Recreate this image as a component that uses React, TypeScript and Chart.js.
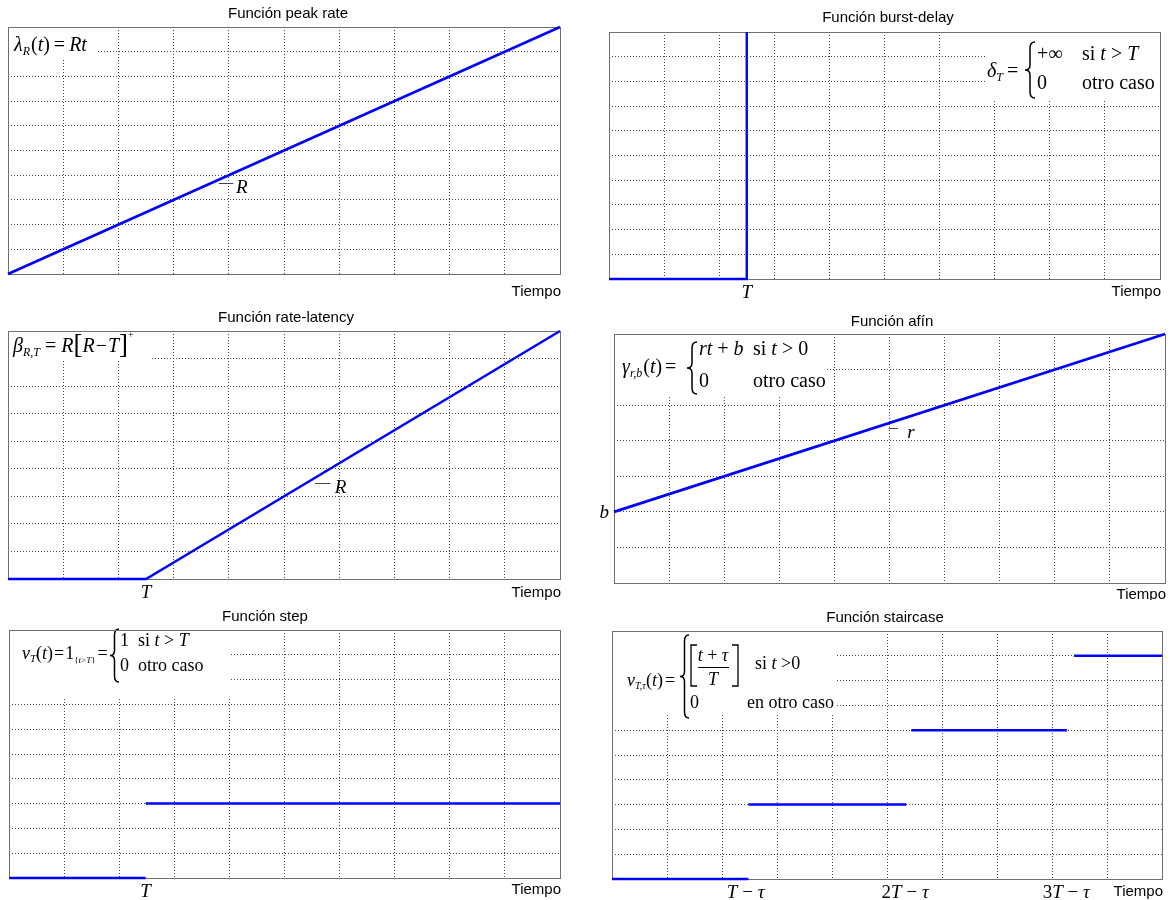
import React, { useEffect, useRef } from 'react';
import { Chart, registerables } from 'chart.js';
Chart.register(...registerables);

// ---------------- data ----------------
const titles = ['Función peak rate', 'Función burst-delay', 'Función rate-latency', 'Función afín', 'Función step', 'Función staircase'];
const xMax = 10;
const yMaxes = [10, 10, 9, 7, 10, 10];

const peakT = [0, 10];
const peakV = [0, 10];
const burstT = [0, 2.5, 2.5];
const burstV = [0, 0, 10];
const latencyT = [0, 2.5, 10];
const latencyV = [0, 0, 9];
const affineT = [0, 10];
const affineV = [2, 7];
const stepStart = [0, 2.48];
const stepEnd = [2.48, 10];
const stepLevel = [0, 3];
const stairStart = [0, 2.48, 5.44, 8.4];
const stairEnd = [2.48, 5.35, 8.27, 10];
const stairLevel = [0, 3, 6, 9];

const burstTickPos = [2.5];
const latencyTickPos = [2.5];
const stepTickPos = [2.48];
const stairTickPos = [2.43, 5.33, 8.26];
const affineYTickPos = [2];

// ---------------- styles ----------------
const BLUE = '#0000ff';
const GRID = '#454545';
const FRAME = '#707070';
const SERIF = '"Liberation Serif", "Times New Roman", serif';
const SANS = '"Liberation Sans", Arial, sans-serif';

type Part = { t: string; i?: boolean; s?: number; dy?: number; dx?: number };

function fnt(p: Part, def: number) {
  return `${p.i ? 'italic ' : ''}${p.s ?? def}px ${SERIF}`;
}
function seqWidth(ctx: CanvasRenderingContext2D, parts: Part[], def: number) {
  let w = 0;
  for (const p of parts) {
    ctx.font = fnt(p, def);
    w += (p.dx ?? 0) + ctx.measureText(p.t).width;
  }
  return w;
}
function drawSeq(ctx: CanvasRenderingContext2D, x: number, y: number, parts: Part[], def = 20, align: 'left' | 'center' | 'right' = 'left') {
  const w = seqWidth(ctx, parts, def);
  let cx = align === 'center' ? x - w / 2 : align === 'right' ? x - w : x;
  ctx.save();
  ctx.textAlign = 'left';
  ctx.textBaseline = 'alphabetic';
  ctx.fillStyle = '#000';
  for (const p of parts) {
    ctx.font = fnt(p, def);
    cx += p.dx ?? 0;
    ctx.fillText(p.t, cx, y + (p.dy ?? 0));
    cx += ctx.measureText(p.t).width;
  }
  ctx.restore();
  return cx;
}
function brace(ctx: CanvasRenderingContext2D, x: number, y0: number, y1: number, w: number) {
  const ym = (y0 + y1) / 2;
  const xm = x + w / 2;
  ctx.save();
  ctx.strokeStyle = '#000';
  ctx.lineWidth = 1.5;
  ctx.beginPath();
  ctx.moveTo(x + w, y0);
  ctx.quadraticCurveTo(xm, y0, xm, y0 + 6);
  ctx.lineTo(xm, ym - 5);
  ctx.quadraticCurveTo(xm, ym, x, ym);
  ctx.quadraticCurveTo(xm, ym, xm, ym + 5);
  ctx.lineTo(xm, y1 - 6);
  ctx.quadraticCurveTo(xm, y1, x + w, y1);
  ctx.stroke();
  ctx.restore();
}
function sqBracket(ctx: CanvasRenderingContext2D, x: number, y0: number, y1: number, w: number, left: boolean) {
  ctx.save();
  ctx.strokeStyle = '#000';
  ctx.lineWidth = 1.3;
  ctx.beginPath();
  const xv = left ? x : x + w;
  const xe = left ? x + w : x;
  ctx.moveTo(xe, y0);
  ctx.lineTo(xv, y0);
  ctx.lineTo(xv, y1);
  ctx.lineTo(xe, y1);
  ctx.stroke();
  ctx.restore();
}
function whiteBox(ctx: CanvasRenderingContext2D, b: number[]) {
  ctx.save();
  ctx.fillStyle = '#fff';
  ctx.fillRect(b[0], b[1], b[2] - b[0], b[3] - b[1]);
  ctx.restore();
}

// ---------------- formulas (page coordinates) ----------------
function f1(ctx: CanvasRenderingContext2D) {
  whiteBox(ctx, [8, 27, 98, 58]);
  drawSeq(ctx, 14, 51, [
    { t: 'λ', i: true }, { t: 'R', i: true, s: 12, dy: 4 }, { t: '(', dx: 1 }, { t: 't', i: true }, { t: ')' },
    { t: '=', dx: 4 }, { t: 'Rt', i: true, dx: 4 },
  ], 20);
}
function f2(ctx: CanvasRenderingContext2D) {
  whiteBox(ctx, [985, 32, 1160, 100]);
  drawSeq(ctx, 987, 77, [{ t: 'δ', i: true }, { t: 'T', i: true, s: 12, dy: 4 }, { t: '=', dx: 4 }], 20);
  brace(ctx, 1025, 42, 98, 10);
  drawSeq(ctx, 1037, 60, [{ t: '+∞' }], 20);
  drawSeq(ctx, 1082, 60, [{ t: 'si ' }, { t: 't', i: true }, { t: ' > ' }, { t: 'T', i: true }], 20);
  drawSeq(ctx, 1037, 89, [{ t: '0' }], 20);
  drawSeq(ctx, 1082, 89, [{ t: 'otro caso' }], 20);
}
function f3(ctx: CanvasRenderingContext2D) {
  whiteBox(ctx, [8, 331, 150, 360]);
  drawSeq(ctx, 13, 352, [
    { t: 'β', i: true }, { t: 'R,T', i: true, s: 12, dy: 4 }, { t: '=', dx: 5 }, { t: 'R', i: true, dx: 5 },
    { t: '[', s: 27, dy: 1 }, { t: 'R', i: true }, { t: '−', dx: 1 }, { t: 'T', i: true, dx: 1 }, { t: ']', s: 27, dy: 1 },
    { t: '+', s: 10, dy: -14 },
  ], 20);
}
function f4(ctx: CanvasRenderingContext2D) {
  whiteBox(ctx, [614, 334, 827, 397]);
  drawSeq(ctx, 622, 373, [
    { t: 'γ', i: true }, { t: 'r,b', i: true, s: 12, dy: 4 }, { t: '(', dx: 1 }, { t: 't', i: true }, { t: ')' }, { t: '=', dx: 3 },
  ], 20);
  brace(ctx, 687, 342, 394, 10);
  drawSeq(ctx, 699, 355, [{ t: 'rt', i: true }, { t: ' + ' }, { t: 'b', i: true }], 20);
  drawSeq(ctx, 753, 355, [{ t: 'si ' }, { t: 't', i: true }, { t: ' > 0' }], 20);
  drawSeq(ctx, 699, 387, [{ t: '0' }], 20);
  drawSeq(ctx, 753, 387, [{ t: 'otro caso' }], 20);
}
function f5(ctx: CanvasRenderingContext2D) {
  whiteBox(ctx, [9, 630, 230, 697]);
  drawSeq(ctx, 22, 659, [
    { t: 'v', i: true }, { t: 'T', i: true, s: 11, dy: 3 }, { t: '(' }, { t: 't', i: true }, { t: ')' }, { t: '=', dx: 1 },
    { t: '1', dx: 1 }, { t: '{', s: 9, dy: 4 }, { t: 't', i: true, s: 9, dy: 4 }, { t: '>', s: 9, dy: 4 }, { t: 'T', i: true, s: 9, dy: 4 },
    { t: '}', s: 9, dy: 4 }, { t: '=', dx: 2 },
  ], 18);
  brace(ctx, 110, 629, 682, 9);
  drawSeq(ctx, 120, 646, [{ t: '1' }], 18);
  drawSeq(ctx, 138, 646, [{ t: 'si ' }, { t: 't', i: true }, { t: ' > ' }, { t: 'T', i: true }], 18);
  drawSeq(ctx, 120, 671, [{ t: '0' }], 18);
  drawSeq(ctx, 138, 671, [{ t: 'otro caso' }], 18);
}
function f6(ctx: CanvasRenderingContext2D) {
  whiteBox(ctx, [612, 631, 837, 715]);
  drawSeq(ctx, 627, 686, [
    { t: 'v', i: true }, { t: 'T,τ', i: true, s: 10, dy: 3 }, { t: '(' }, { t: 't', i: true }, { t: ')' }, { t: '=', dx: 2 },
  ], 18);
  brace(ctx, 680, 635, 718, 9);
  sqBracket(ctx, 691, 645, 686, 6, true);
  drawSeq(ctx, 713, 661, [{ t: 't', i: true }, { t: ' + ' }, { t: 'τ', i: true }], 18, 'center');
  ctx.save();
  ctx.strokeStyle = '#000';
  ctx.lineWidth = 1;
  ctx.beginPath();
  ctx.moveTo(698, 667.5);
  ctx.lineTo(729, 667.5);
  ctx.stroke();
  ctx.restore();
  drawSeq(ctx, 713, 685, [{ t: 'T', i: true }], 18, 'center');
  sqBracket(ctx, 732, 645, 686, 6, false);
  drawSeq(ctx, 755, 669, [{ t: 'si ' }, { t: 't', i: true }, { t: ' >0' }], 18);
  drawSeq(ctx, 690, 708, [{ t: '0' }], 18);
  drawSeq(ctx, 747, 708, [{ t: 'en otro caso' }], 18);
}

// ---------------- panels ----------------
type XY = { x: number; y: number };
const zipPts = (xs: number[], ys: number[]): XY[] => xs.map((x, k) => ({ x, y: ys[k] }));
const segs = (a: number[], b: number[], lv: number[]): XY[][] => a.map((s, k) => [{ x: s, y: lv[k] }, { x: b[k], y: lv[k] }]);

type Ann = { x0: number; x1: number; y: number; lx: number; ly: number; t: string };
type PanelCfg = {
  ox: number; oy: number; area: number[]; title: string; tx: number; ty: number; tiempoY: number; yMax: number;
  lines: XY[][]; width: number; formula: (c: CanvasRenderingContext2D) => void;
  xTicks?: { pos: number[]; parts: Part[][]; y: number };
  yTicks?: { pos: number[]; parts: Part[][] };
  ann?: Ann;
};

const tLabel: Part[] = [{ t: 'T', i: true }];
const panels: PanelCfg[] = [
  { ox: 0, oy: 0, area: [8, 27, 560, 274], title: titles[0], tx: 288, ty: 14, tiempoY: 292, yMax: yMaxes[0],
    lines: [zipPts(peakT, peakV)], width: 2.6, formula: f1,
    ann: { x0: 3.82, x1: 4.08, y: 3.68, lx: 4.13, ly: 3.52, t: 'R' } },
  { ox: 585, oy: 0, area: [609, 32, 1160, 279], title: titles[1], tx: 888, ty: 18, tiempoY: 292, yMax: yMaxes[1],
    lines: [zipPts(burstT, burstV)], width: 2.4, formula: f2,
    xTicks: { pos: burstTickPos, parts: [tLabel], y: 298 } },
  { ox: 0, oy: 300, area: [8, 331, 560, 579], title: titles[2], tx: 286, ty: 318, tiempoY: 593, yMax: yMaxes[2],
    lines: [zipPts(latencyT, latencyV)], width: 2.5, formula: f3,
    xTicks: { pos: latencyTickPos, parts: [tLabel], y: 598 },
    ann: { x0: 5.56, x1: 5.84, y: 3.48, lx: 5.92, ly: 3.33, t: 'R' } },
  { ox: 585, oy: 300, area: [614, 334, 1165, 583], title: titles[3], tx: 892, ty: 322, tiempoY: 595, yMax: yMaxes[3],
    lines: [zipPts(affineT, affineV)], width: 2.7, formula: f4,
    yTicks: { pos: affineYTickPos, parts: [[{ t: 'b', i: true }]] },
    ann: { x0: 4.99, x1: 5.15, y: 4.36, lx: 5.32, ly: 4.25, t: 'r' } },
  { ox: 0, oy: 600, area: [9, 630, 560, 878], title: titles[4], tx: 265, ty: 617, tiempoY: 890, yMax: yMaxes[4],
    lines: segs(stepStart, stepEnd, stepLevel), width: 2.5, formula: f5,
    xTicks: { pos: stepTickPos, parts: [tLabel], y: 897 } },
  { ox: 585, oy: 600, area: [612, 631, 1162, 879], title: titles[5], tx: 885, ty: 618, tiempoY: 892, yMax: yMaxes[5],
    lines: segs(stairStart, stairEnd, stairLevel), width: 2.5, formula: f6,
    xTicks: {
      pos: stairTickPos,
      parts: [
        [{ t: 'T', i: true }, { t: ' − ' }, { t: 'τ', i: true }],
        [{ t: '2' }, { t: 'T', i: true }, { t: ' − ' }, { t: 'τ', i: true }],
        [{ t: '3' }, { t: 'T', i: true }, { t: ' − ' }, { t: 'τ', i: true }],
      ],
      y: 898,
    } },
];

const CW = 585;
const CH = 300;

function Panel({ cfg }: { cfg: PanelCfg }) {
  const ref = useRef<HTMLCanvasElement | null>(null);
  useEffect(() => {
    if (!ref.current) return;
    const { ox, oy, area } = cfg;
    const padding = { left: area[0] - ox, top: area[1] - oy, right: ox + CW - area[2], bottom: oy + CH - area[3] };
    const axisCommon = {
      type: 'linear' as const,
      ticks: { display: false, stepSize: 1 },
      grid: { color: GRID, lineWidth: 1, drawTicks: false },
      border: { display: false, dash: [1, 2] },
    };
    const plugin = {
      id: 'panelDecor',
      beforeDatasetsDraw(chart: any) {
        const ctx = chart.ctx as CanvasRenderingContext2D;
        const ca = chart.chartArea;
        ctx.save();
        ctx.translate(-ox, -oy);
        cfg.formula(ctx);
        ctx.restore();
        ctx.save();
        ctx.strokeStyle = FRAME;
        ctx.lineWidth = 1;
        const l = Math.round(ca.left), t = Math.round(ca.top), r = Math.round(ca.right), b = Math.round(ca.bottom);
        ctx.strokeRect(l + 0.5, t + 0.5, r - l, b - t);
        ctx.restore();
      },
      afterDraw(chart: any) {
        const ctx = chart.ctx as CanvasRenderingContext2D;
        const ca = chart.chartArea;
        const xs = chart.scales.x;
        const ys = chart.scales.y;
        ctx.save();
        ctx.fillStyle = '#000';
        ctx.font = `15px ${SANS}`;
        ctx.textAlign = 'center';
        ctx.textBaseline = 'middle';
        ctx.fillText(cfg.title, cfg.tx - ox, cfg.ty - oy);
        ctx.textAlign = 'right';
        ctx.fillText('Tiempo', ca.right + 1, cfg.tiempoY - oy);
        ctx.restore();
        if (cfg.xTicks) {
          cfg.xTicks.pos.forEach((p, k) => {
            drawSeq(ctx, xs.getPixelForValue(p), cfg.xTicks!.y - oy, cfg.xTicks!.parts[k], 19, 'center');
          });
        }
        if (cfg.yTicks) {
          cfg.yTicks.pos.forEach((p, k) => {
            drawSeq(ctx, ca.left - 5, ys.getPixelForValue(p) + 6, cfg.yTicks!.parts[k], 19, 'right');
          });
        }
        if (cfg.ann) {
          const a = cfg.ann;
          ctx.save();
          ctx.strokeStyle = '#444';
          ctx.lineWidth = 1;
          ctx.beginPath();
          const yy = Math.round(ys.getPixelForValue(a.y)) + 0.5;
          ctx.moveTo(xs.getPixelForValue(a.x0), yy);
          ctx.lineTo(xs.getPixelForValue(a.x1), yy);
          ctx.stroke();
          ctx.restore();
          drawSeq(ctx, xs.getPixelForValue(a.lx), ys.getPixelForValue(a.ly) + 6, [{ t: a.t, i: true }], 19);
        }
      },
    };
    const chart = new Chart(ref.current, {
      type: 'scatter',
      data: {
        datasets: cfg.lines.map((pts) => ({
          data: pts,
          showLine: true,
          borderColor: BLUE,
          backgroundColor: BLUE,
          borderWidth: cfg.width,
          pointRadius: 0,
          fill: false,
          tension: 0,
          clip: false,
        })),
      },
      options: {
        animation: false,
        responsive: false,
        events: [],
        layout: { padding },
        plugins: { legend: { display: false }, tooltip: { enabled: false }, title: { display: false } },
        scales: {
          x: { ...axisCommon, min: 0, max: xMax, afterFit: (s: any) => { s.height = 0; } },
          y: { ...axisCommon, min: 0, max: cfg.yMax, afterFit: (s: any) => { s.width = 0; } },
        },
      } as any,
      plugins: [plugin],
    });
    return () => chart.destroy();
  }, [cfg]);
  return (
    <canvas
      ref={ref}
      width={CW}
      height={CH}
      style={{ position: 'absolute', left: cfg.ox, top: cfg.oy, width: CW, height: CH }}
    />
  );
}

export default function App() {
  return (
    <div style={{ position: 'absolute', left: 0, top: 0, width: 1170, height: 900, background: '#fff', overflow: 'hidden' }}>
      {panels.map((p, k) => (
        <Panel key={k} cfg={p} />
      ))}
    </div>
  );
}
